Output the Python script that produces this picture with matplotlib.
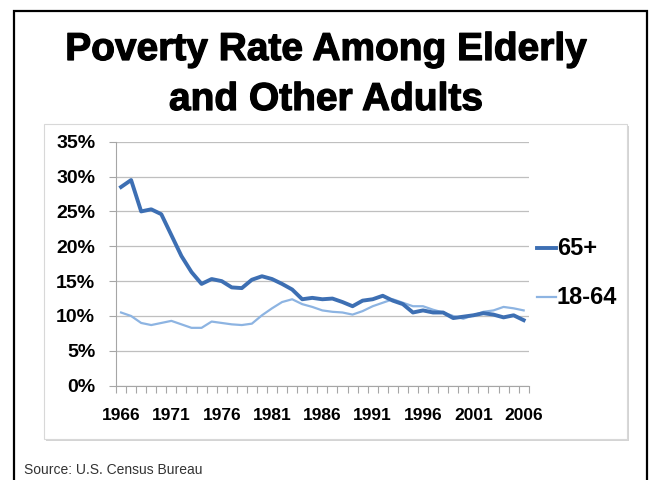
import numpy as np
import matplotlib
matplotlib.use("Agg")
import matplotlib.pyplot as plt
import matplotlib.patheffects as pe
from matplotlib.lines import Line2D
from matplotlib.patches import Rectangle
from matplotlib.ticker import FuncFormatter, MultipleLocator

plt.rcParams["font.family"] = ["Liberation Sans", "DejaVu Sans"]

years = np.arange(1966, 2007)
elderly = [28.5, 29.5, 25.0, 25.3, 24.6, 21.6, 18.6, 16.3, 14.6, 15.3,
           15.0, 14.1, 14.0, 15.2, 15.7, 15.3, 14.6, 13.8, 12.4, 12.6,
           12.4, 12.5, 12.0, 11.4, 12.2, 12.4, 12.9, 12.2, 11.7, 10.5,
           10.8, 10.5, 10.5, 9.7, 9.9, 10.1, 10.4, 10.2, 9.8, 10.1, 9.4]
adults = [10.5, 10.0, 9.0, 8.7, 9.0, 9.3, 8.8, 8.3, 8.3, 9.2,
          9.0, 8.8, 8.7, 8.9, 10.1, 11.1, 12.0, 12.4, 11.7, 11.3,
          10.8, 10.6, 10.5, 10.2, 10.7, 11.4, 11.9, 12.4, 11.9, 11.4,
          11.4, 10.9, 10.5, 10.0, 9.6, 10.1, 10.6, 10.8, 11.3, 11.1, 10.8]
label_years = [1966, 1971, 1976, 1981, 1986, 1991, 1996, 2001, 2006]

dark = "#3D6FB3"
light = "#8DB4E2"
W, H = 650, 480

def fx(px):
    return px / W

def fy(py):
    return 1 - py / H

fig = plt.figure(figsize=(6.5, 4.8), dpi=100)

# outer slide frame
fig.patches.append(Rectangle((fx(14), fy(500)), fx(633), (500 - 11) / H,
                             transform=fig.transFigure, fill=False,
                             edgecolor="black", linewidth=1.6, zorder=-2))
# chart box with soft shadow
fig.patches.append(Rectangle((fx(46), fy(441)), fx(583), (441 - 126) / H,
                             transform=fig.transFigure, facecolor="#d4d4d4",
                             edgecolor="none", zorder=-2))
fig.patches.append(Rectangle((fx(44), fy(439)), fx(583), (439 - 124) / H,
                             transform=fig.transFigure, facecolor="white",
                             edgecolor="#d8d8d8", linewidth=0.8, zorder=-1))

heavy = [pe.withStroke(linewidth=0.9, foreground="black")]
fig.text(fx(326), fy(50), "Poverty Rate Among Elderly", ha="center", va="center",
         fontsize=28, fontweight="bold", path_effects=heavy)
fig.text(fx(326), fy(100), "and Other Adults", ha="center", va="center",
         fontsize=28, fontweight="bold", path_effects=heavy)

ax = fig.add_axes([fx(116), fy(385.7), fx(528.7 - 116), (385.7 - 141.7) / H])
ax.patch.set_alpha(0)
ax.plot(years, np.array(elderly) / 100, color=dark, linewidth=2.8, zorder=3)
ax.plot(years, np.array(adults) / 100, color=light, linewidth=1.6, zorder=2)

ax.set_xlim(1965.5, 2006.5)
ax.set_ylim(0, 0.35)
ax.yaxis.set_major_locator(MultipleLocator(0.05))
ax.yaxis.set_major_formatter(FuncFormatter(lambda v, p: f"{v * 100:.0f}%"))
ax.grid(axis="y", color="#bfbfbf", linewidth=0.9)
ax.set_axisbelow(True)

ax.set_xticks(label_years)
ax.set_xticklabels([str(y) for y in label_years])
ax.set_xticks(np.arange(1965.5, 2007, 1.0), minor=True)
ax.tick_params(axis="x", which="major", length=0, pad=16, labelsize=12.5)
ax.tick_params(axis="x", which="minor", length=5, color="#a6a6a6", width=0.8)
ax.tick_params(axis="y", length=5, color="#a6a6a6", width=0.8, pad=10, labelsize=14)
for lab in ax.get_xticklabels() + ax.get_yticklabels():
    lab.set_fontweight("bold")

for s in ["top", "right"]:
    ax.spines[s].set_visible(False)
ax.spines["left"].set_color("#a6a6a6")
ax.spines["bottom"].set_color("#a6a6a6")
ax.spines["left"].set_linewidth(0.8)
ax.spines["bottom"].set_linewidth(0.8)

# legend
for label, col, lw, py in [("65+", dark, 2.8, 248), ("18-64", light, 1.6, 297)]:
    fig.add_artist(Line2D([fx(537), fx(556)], [fy(py), fy(py)], color=col,
                          linewidth=lw, transform=fig.transFigure))
    fig.text(fx(557), fy(py), label, ha="left", va="center", fontsize=17,
             fontweight="bold")

fig.text(fx(24), fy(470), "Source: U.S. Census Bureau", ha="left", va="center",
         fontsize=10, color="#333333")

fig.savefig("out.png", dpi=100)
